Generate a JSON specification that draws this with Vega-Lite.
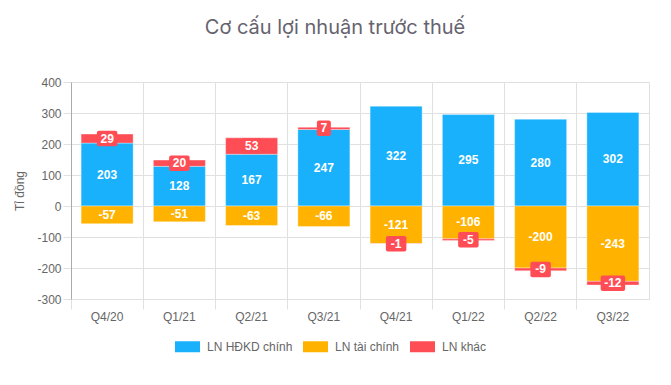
{
  "$schema": "https://vega.github.io/schema/vega-lite/v6.json",
  "width": 578,
  "height": 217,
  "autosize": "none",
  "padding": {"left": 71, "top": 82, "right": 22, "bottom": 86},
  "background": "white",
  "config": {"font": "Liberation Sans", "view": {"stroke": "#e0e0e0"}, "axis": {"labelOverlap": false}},
  "title": {"text": "Cơ cấu lợi nhuận trước thuế", "fontSize": 20, "fontWeight": "normal", "color": "#66636f", "offset": 38, "dx": -25, "font": "Inter"},
  "data": {"values": [
    {"quy": "Q4/20", "loai": "LN HĐKD chính", "thu_tu": 0, "gia_tri": 203},
    {"quy": "Q4/20", "loai": "LN tài chính", "thu_tu": 1, "gia_tri": -57},
    {"quy": "Q4/20", "loai": "LN khác", "thu_tu": 2, "gia_tri": 29},
    {"quy": "Q1/21", "loai": "LN HĐKD chính", "thu_tu": 0, "gia_tri": 128},
    {"quy": "Q1/21", "loai": "LN tài chính", "thu_tu": 1, "gia_tri": -51},
    {"quy": "Q1/21", "loai": "LN khác", "thu_tu": 2, "gia_tri": 20},
    {"quy": "Q2/21", "loai": "LN HĐKD chính", "thu_tu": 0, "gia_tri": 167},
    {"quy": "Q2/21", "loai": "LN tài chính", "thu_tu": 1, "gia_tri": -63},
    {"quy": "Q2/21", "loai": "LN khác", "thu_tu": 2, "gia_tri": 53},
    {"quy": "Q3/21", "loai": "LN HĐKD chính", "thu_tu": 0, "gia_tri": 247},
    {"quy": "Q3/21", "loai": "LN tài chính", "thu_tu": 1, "gia_tri": -66},
    {"quy": "Q3/21", "loai": "LN khác", "thu_tu": 2, "gia_tri": 7},
    {"quy": "Q4/21", "loai": "LN HĐKD chính", "thu_tu": 0, "gia_tri": 322},
    {"quy": "Q4/21", "loai": "LN tài chính", "thu_tu": 1, "gia_tri": -121},
    {"quy": "Q4/21", "loai": "LN khác", "thu_tu": 2, "gia_tri": -1},
    {"quy": "Q1/22", "loai": "LN HĐKD chính", "thu_tu": 0, "gia_tri": 295},
    {"quy": "Q1/22", "loai": "LN tài chính", "thu_tu": 1, "gia_tri": -106},
    {"quy": "Q1/22", "loai": "LN khác", "thu_tu": 2, "gia_tri": -5},
    {"quy": "Q2/22", "loai": "LN HĐKD chính", "thu_tu": 0, "gia_tri": 280},
    {"quy": "Q2/22", "loai": "LN tài chính", "thu_tu": 1, "gia_tri": -200},
    {"quy": "Q2/22", "loai": "LN khác", "thu_tu": 2, "gia_tri": -9},
    {"quy": "Q3/22", "loai": "LN HĐKD chính", "thu_tu": 0, "gia_tri": 302},
    {"quy": "Q3/22", "loai": "LN tài chính", "thu_tu": 1, "gia_tri": -243},
    {"quy": "Q3/22", "loai": "LN khác", "thu_tu": 2, "gia_tri": -12}
  ]},
  "transform": [
    {"stack": "gia_tri", "groupby": ["quy"], "sort": [{"field": "thu_tu", "order": "ascending"}], "as": ["v0", "v1"]}
  ],
  "encoding": {
    "x": {"field": "quy", "type": "nominal", "sort": null,
      "scale": {"paddingInner": 0, "paddingOuter": 0},
      "axis": {"title": null, "labelAngle": 0, "bandPosition": 0, "tickSize": 10, "tickColor": "#e0e0e0", "grid": true, "gridColor": "#e0e0e0", "domain": false, "labelColor": "#666666", "labelFontSize": 12, "labelPadding": 2}},
    "y": {"field": "v0", "type": "quantitative",
      "scale": {"domain": [-300, 400], "nice": false},
      "axis": {"title": "Tỉ đồng", "titleFontSize": 12, "titleFontWeight": "normal", "titleColor": "#666666", "titlePadding": 10, "values": [-300, -200, -100, 0, 100, 200, 300, 400], "labelOverlap": false, "labelExpr": "toString(datum.value)", "domainColor": "#aaaaaa", "tickSize": 8, "tickColor": "#e0e0e0", "grid": true, "gridColor": "#e0e0e0", "labelColor": "#666666", "labelFontSize": 12, "labelPadding": 2}}
  },
  "layer": [
    {
      "mark": {"type": "bar", "width": {"band": 0.72}, "stroke": "white", "strokeOpacity": 0.35, "strokeWidth": 1},
      "encoding": {
        "y2": {"field": "v1"},
        "color": {"field": "loai", "type": "nominal",
          "scale": {"domain": ["LN HĐKD chính", "LN tài chính", "LN khác"], "range": ["#19b1fc", "#ffb300", "#ff4d55"]},
          "legend": {"title": null, "orient": "none", "legendX": 104, "legendY": 252, "direction": "horizontal", "padding": 0,
            "symbolType": "M-1,-0.44H1V0.44H-1Z", "symbolSize": 625, "symbolStrokeWidth": 0, "symbolOpacity": 1,
            "labelFontSize": 12, "labelColor": "#666666", "columnPadding": 10, "labelOffset": 7}}
      }
    },
    {
      "data": {"values": [{}]},
      "mark": {"type": "rule", "color": "#b0b0b0", "strokeWidth": 1},
      "encoding": {"x": null, "y": {"datum": 0}}
    },
    {
      "transform": [
        {"filter": "datum.loai != 'LN khác'"},
        {"fold": ["v0", "v1"], "as": ["bien", "muc"]},
        {"aggregate": [{"op": "mean", "field": "muc", "as": "v0"}], "groupby": ["quy", "loai", "gia_tri"]}
      ],
      "mark": {"type": "text", "color": "white", "fontWeight": "bold", "fontSize": 12, "baseline": "middle"},
      "encoding": {
        "text": {"field": "gia_tri", "type": "nominal"}
      }
    },
    {
      "transform": [
        {"filter": "datum.loai == 'LN khác'"},
        {"fold": ["v0", "v1"], "as": ["bien", "muc"]},
        {"aggregate": [{"op": "mean", "field": "muc", "as": "v0"}], "groupby": ["quy", "loai", "gia_tri"]}
      ],
      "mark": {"type": "point", "filled": true, "color": "#ff4d55", "opacity": 1, "size": 625, "strokeWidth": 0},
      "encoding": {
        "shape": {
          "condition": [
            {"test": "length(toString(datum.gia_tri)) == 1", "value": "M-0.4,-0.62H0.4Q0.56,-0.62 0.56,-0.46V0.46Q0.56,0.62 0.4,0.62H-0.4Q-0.56,0.62 -0.56,0.46V-0.46Q-0.56,-0.62 -0.4,-0.62Z"},
            {"test": "length(toString(datum.gia_tri)) == 2", "value": "M-0.66,-0.62H0.66Q0.82,-0.62 0.82,-0.46V0.46Q0.82,0.62 0.66,0.62H-0.66Q-0.82,0.62 -0.82,0.46V-0.46Q-0.82,-0.62 -0.66,-0.62Z"}
          ],
          "value": "M-0.82,-0.62H0.82Q0.98,-0.62 0.98,-0.46V0.46Q0.98,0.62 0.82,0.62H-0.82Q-0.98,0.62 -0.98,0.46V-0.46Q-0.98,-0.62 -0.82,-0.62Z"
        }
      }
    },
    {
      "transform": [
        {"filter": "datum.loai == 'LN khác'"},
        {"fold": ["v0", "v1"], "as": ["bien", "muc"]},
        {"aggregate": [{"op": "mean", "field": "muc", "as": "v0"}], "groupby": ["quy", "loai", "gia_tri"]}
      ],
      "mark": {"type": "text", "color": "white", "fontWeight": "bold", "fontSize": 12, "baseline": "middle"},
      "encoding": {
        "text": {"field": "gia_tri", "type": "nominal"}
      }
    }
  ]
}
